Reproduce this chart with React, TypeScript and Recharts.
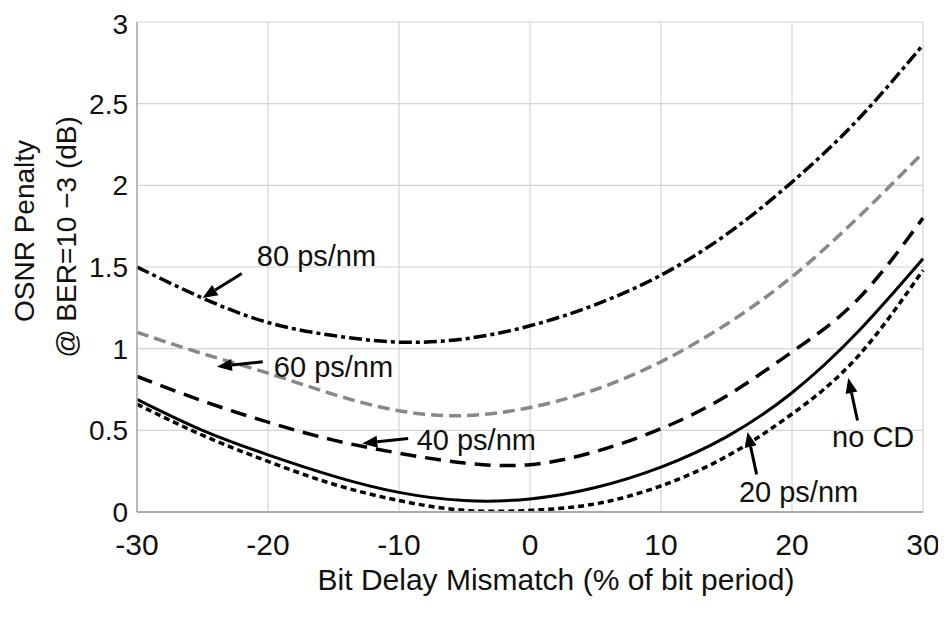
import React from 'react';
import {
  LineChart,
  Line,
  XAxis,
  YAxis,
  CartesianGrid,
  ReferenceLine,
  ReferenceDot,
} from 'recharts';

const delays = [-30, -25, -20, -15, -10, -5, 0, 5, 10, 15, 20, 25, 30];
const cd80 = [1.5, 1.31, 1.16, 1.08, 1.04, 1.06, 1.14, 1.27, 1.45, 1.7, 2.02, 2.4, 2.86];
const cd60 = [1.1, 0.97, 0.85, 0.72, 0.62, 0.59, 0.64, 0.75, 0.92, 1.15, 1.44, 1.8, 2.2];
const cd40 = [0.83, 0.68, 0.55, 0.44, 0.36, 0.3, 0.29, 0.37, 0.51, 0.71, 0.98, 1.3, 1.8];
const cd20 = [0.69, 0.5, 0.35, 0.22, 0.12, 0.07, 0.08, 0.15, 0.275, 0.46, 0.73, 1.1, 1.55];
const noCd = [0.66, 0.47, 0.31, 0.17, 0.07, 0.01, 0.01, 0.05, 0.16, 0.34, 0.6, 0.95, 1.48];

const xTicks = [-30, -20, -10, 0, 10, 20, 30];
const yTicks = [0, 0.5, 1, 1.5, 2, 2.5, 3];

// label text, label position, arrow tail, arrow head (data units)
const notes = [
  { text: '80 ps/nm', x: -16.3, y: 1.57, from: [-22, 1.46], to: [-25, 1.31] },
  { text: '60 ps/nm', x: -15, y: 0.89, from: [-20.4, 0.92], to: [-23.9, 0.89] },
  { text: '40 ps/nm', x: -4.1, y: 0.44, from: [-9.3, 0.45], to: [-12.8, 0.42] },
  { text: 'no CD', x: 26.2, y: 0.46, from: [25, 0.56], to: [24.3, 0.82] },
  { text: '20 ps/nm', x: 20.5, y: 0.12, from: [17.3, 0.23], to: [16.6, 0.49] },
];

const data = delays.map((d, i) => ({
  d,
  cd80: cd80[i],
  cd60: cd60[i],
  cd40: cd40[i],
  cd20: cd20[i],
  noCd: noCd[i],
}));

const font = "'Liberation Sans', Arial, sans-serif";

const Arrow = (props: any) => {
  const { x1, y1, x2, y2 } = props;
  const ang = Math.atan2(y2 - y1, x2 - x1);
  const len = 15;
  const w = 6;
  const bx = x2 - len * Math.cos(ang);
  const by = y2 - len * Math.sin(ang);
  const px = -Math.sin(ang) * w;
  const py = Math.cos(ang) * w;
  return (
    <g>
      <line x1={x1} y1={y1} x2={bx} y2={by} stroke="#000" strokeWidth={3} />
      <polygon points={`${x2},${y2} ${bx + px},${by + py} ${bx - px},${by - py}`} fill="#000" />
    </g>
  );
};

const YTitle = (props: any) => {
  const vb = props.viewBox;
  const cy = vb.y + vb.height / 2 - 36;
  return (
    <g fontFamily={font} fontSize={28} fill="#111">
      <text x={16} y={cy} transform={`rotate(-90, 16, ${cy})`} textAnchor="middle" dominantBaseline="central">
        OSNR Penalty
      </text>
      <text x={58} y={cy + 6} transform={`rotate(-90, 58, ${cy + 6})`} textAnchor="middle" dominantBaseline="central">
        @ BER=10 −3 (dB)
      </text>
    </g>
  );
};

const XTitle = (props: any) => {
  const vb = props.viewBox;
  return (
    <text
      x={vb.x + vb.width / 2 + 26}
      y={571}
      textAnchor="middle"
      dominantBaseline="central"
      fontFamily={font}
      fontSize={30}
      fill="#111"
    >
      Bit Delay Mismatch (% of bit period)
    </text>
  );
};

export default function App() {
  return (
    <LineChart
      width={938}
      height={602}
      data={data}
      margin={{ top: 14, right: 23, left: 0, bottom: 0 }}
      style={{ fontFamily: font }}
    >
      <CartesianGrid stroke="#d4d4d4" strokeWidth={1.2} />
      <XAxis
        dataKey="d"
        type="number"
        domain={[-30, 30]}
        ticks={xTicks}
        height={98}
        tickSize={0}
        tickMargin={22}
        tick={{ fill: '#111', fontSize: 30 }}
        axisLine={{ stroke: '#aaa', strokeWidth: 2 }}
        label={<XTitle />}
      />
      <YAxis
        domain={[0, 3]}
        ticks={yTicks}
        width={129}
        tickSize={0}
        tickMargin={9}
        tick={{ fill: '#111', fontSize: 28 }}
        axisLine={{ stroke: '#aaa', strokeWidth: 1.5 }}
        label={<YTitle />}
      />
      <Line dataKey="cd80" type="natural" stroke="#000" strokeWidth={3.5} strokeDasharray="13 4 4 4" dot={false} activeDot={false} isAnimationActive={false} />
      <Line dataKey="cd60" type="natural" stroke="#888" strokeWidth={3.5} strokeDasharray="12 6" dot={false} activeDot={false} isAnimationActive={false} />
      <Line dataKey="cd40" type="natural" stroke="#000" strokeWidth={3.5} strokeDasharray="16 9" dot={false} activeDot={false} isAnimationActive={false} />
      <Line dataKey="cd20" type="natural" stroke="#000" strokeWidth={3} dot={false} activeDot={false} isAnimationActive={false} />
      <Line dataKey="noCd" type="natural" stroke="#000" strokeWidth={3.5} strokeDasharray="6 4" dot={false} activeDot={false} isAnimationActive={false} />
      {notes.map((n) => (
        <ReferenceLine
          key={`a-${n.text}`}
          segment={[
            { x: n.from[0], y: n.from[1] },
            { x: n.to[0], y: n.to[1] },
          ]}
          shape={Arrow}
        />
      ))}
      {notes.map((n) => (
        <ReferenceDot
          key={`t-${n.text}`}
          x={n.x}
          y={n.y}
          r={0}
          shape={(p: any) => (
            <text x={p.cx} y={p.cy} textAnchor="middle" dominantBaseline="central" fontFamily={font} fontSize={29} fill="#111">
              {n.text}
            </text>
          )}
        />
      ))}
    </LineChart>
  );
}
